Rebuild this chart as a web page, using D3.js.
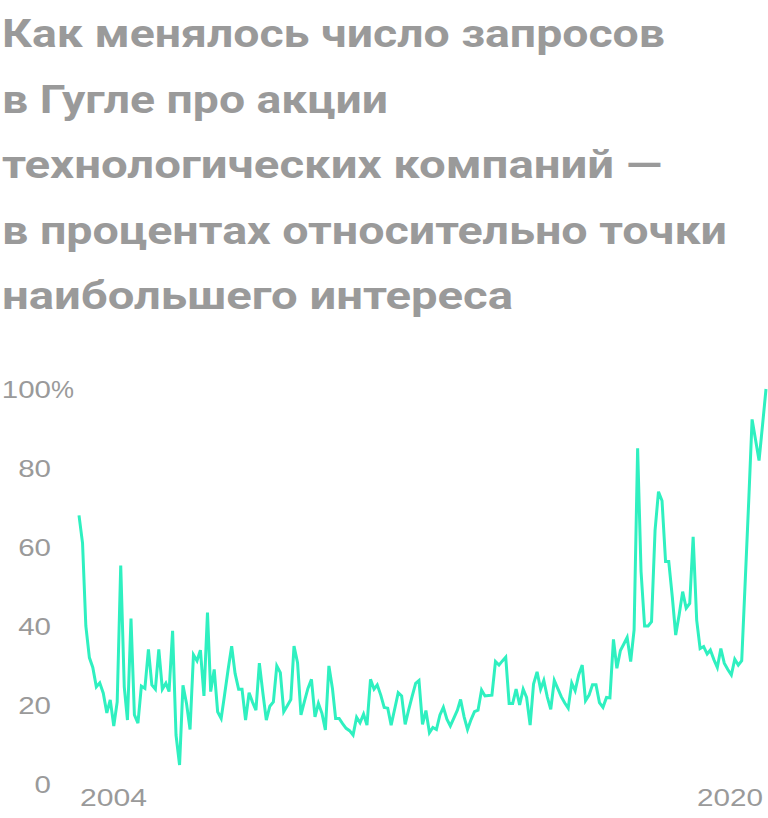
<!DOCTYPE html>
<html><head><meta charset="utf-8">
<script src="https://cdn.jsdelivr.net/npm/d3@7"></script>
<style>html,body{margin:0;padding:0;background:#fff;} svg{display:block}</style>
</head><body>
<svg id="c" width="768" height="818"></svg>
<script>
// ---- data ----
const titleLines = [
  "Как менялось число запросов",
  "в Гугле про акции",
  "технологических компаний —",
  "в процентах относительно точки",
  "наибольшего интереса"
];
const startYear = 2004;
const startMonth = 0; // January 2004, monthly values
const values = [
  68, 61, 40, 32, 29.5, 24.6, 25.6, 23, 18, 21.3, 14.7, 20.8,
  55.3, 24.6, 16.2, 41.9, 17.5, 15.4, 24.8, 24.2, 34.1, 25.1, 24, 34.1,
  24, 25.5, 23.4, 38.8, 12.4, 4.8, 25, 20.4, 13.8, 32.7, 31.2, 33.9,
  22.3, 43.4, 23.4, 29, 18.3, 16.6, 22.6, 29, 34.9, 28, 24, 24,
  16.2, 23.1, 20.8, 18.7, 30.6, 23, 16.2, 19.7, 20.8, 29.9, 28.2, 18.3,
  19.8, 21.4, 34.9, 30.7, 17.5, 21, 24.2, 26.5, 17, 20.4, 17.9, 13.7,
  29.9, 24.2, 16.6, 16.6, 15.3, 14.1, 13.5, 12.4, 16.9, 15.5, 17.7, 14.9,
  26.5, 24, 25.1, 22.5, 19.4, 19.2, 14.9, 19, 23.1, 22.3, 15.1, 18.7,
  22.2, 25.5, 26.2, 15.1, 18.6, 13, 14.3, 13.8, 17.5, 19.4, 16.4, 14.7,
  16.7, 18.7, 21.4, 17, 13.8, 16.3, 18.3, 18.7, 23.8, 22.3, 22.4, 22.5,
  31, 30.1, 31.1, 32.1, 20.4, 20.4, 24, 20, 24, 21.9, 14.9, 25.3,
  28.4, 24, 26.2, 22, 18.9, 26.2, 24.2, 22.1, 20.5, 19.2, 25.6, 23.6,
  27.6, 30.1, 21.1, 22.5, 25.1, 25.1, 20.6, 19.4, 21.9, 21.8, 36.6, 29.3,
  33.8, 35.5, 37.1, 31, 39, 85, 53.8, 40, 40, 41.1, 64.3, 74,
  71.7, 56.3, 56.3, 47.4, 37.7, 43, 48.7, 44.5, 45.7, 62.6, 41.5, 34.3,
  34.8, 32.9, 33.9, 31.5, 29.5, 34.3, 30.6, 29, 27.6, 31.6, 30.1, 31.2,
  51.5, 72, 92.3, 87, 81.9, 91, 100
];
const yTicks = [0, 20, 40, 60, 80, 100];
const xTickLabels = ["2004", "2020"];

// ---- chart ----
const svg = d3.select("#c");
const lineColor = "#2ff0c0";
const gray = "#9a9a9a";

const dates = values.map((v, i) => new Date(startYear, startMonth + i, 1));
const x = d3.scaleTime().domain([dates[0], dates[dates.length - 1]]).range([79, 766]);
const y = d3.scaleLinear().domain([0, 100]).range([784, 389]);

// title
const titleWidths = [663, 386, 660, 725, 511];
const titleBase = [47, 112.5, 178, 243.5, 309];
svg.append("g").selectAll("text").data(titleLines).join("text")
  .attr("x", 2)
  .attr("y", (d, i) => titleBase[i])
  .attr("font-family", "Roboto, 'Liberation Sans', sans-serif")
  .attr("font-weight", 700)
  .attr("font-size", 38)
  .attr("fill", gray)
  .attr("textLength", (d, i) => titleWidths[i])
  .attr("lengthAdjust", "spacingAndGlyphs")
  .text(d => d);

// y axis
const yAxis = d3.axisLeft(y).tickValues(yTicks).tickSize(0).tickPadding(0)
  .tickFormat(d => String(d));
const gy = svg.append("g").attr("transform", "translate(51,0)").call(yAxis);
gy.select(".domain").remove();
gy.selectAll("text")
  .attr("font-family", "'Liberation Sans', Arial, sans-serif")
  .attr("font-size", 24)
  .attr("fill", gray)
  .attr("dy", "0.36em")
  .attr("textLength", d => String(d).length * 16.4)
  .attr("lengthAdjust", "spacingAndGlyphs");
gy.selectAll(".tick").filter(d => d === 100).append("text")
  .attr("x", 0)
  .attr("dy", "0.36em")
  .attr("text-anchor", "start")
  .attr("font-family", "'Liberation Sans', Arial, sans-serif")
  .attr("font-size", 24)
  .attr("fill", gray)
  .attr("textLength", 23)
  .attr("lengthAdjust", "spacingAndGlyphs")
  .text("%");

// x axis labels (first and last)
const xLab = svg.append("g");
xLab.append("text")
  .attr("x", x(dates[0]) + 1)
  .attr("y", 806)
  .attr("text-anchor", "start")
  .attr("font-family", "'Liberation Sans', Arial, sans-serif")
  .attr("font-size", 24)
  .attr("fill", gray)
  .attr("textLength", 67)
  .attr("lengthAdjust", "spacingAndGlyphs")
  .text(xTickLabels[0]);
xLab.append("text")
  .attr("x", x(dates[dates.length - 1]) - 3)
  .attr("y", 806)
  .attr("text-anchor", "end")
  .attr("font-family", "'Liberation Sans', Arial, sans-serif")
  .attr("font-size", 24)
  .attr("fill", gray)
  .attr("textLength", 66)
  .attr("lengthAdjust", "spacingAndGlyphs")
  .text(xTickLabels[1]);

// line
const line = d3.line().x((d, i) => x(dates[i])).y(d => y(d));
svg.append("path")
  .datum(values)
  .attr("d", line)
  .attr("fill", "none")
  .attr("stroke", lineColor)
  .attr("stroke-width", 3)
  .attr("stroke-linejoin", "miter")
  .attr("stroke-miterlimit", 4);
</script>
</body></html>
